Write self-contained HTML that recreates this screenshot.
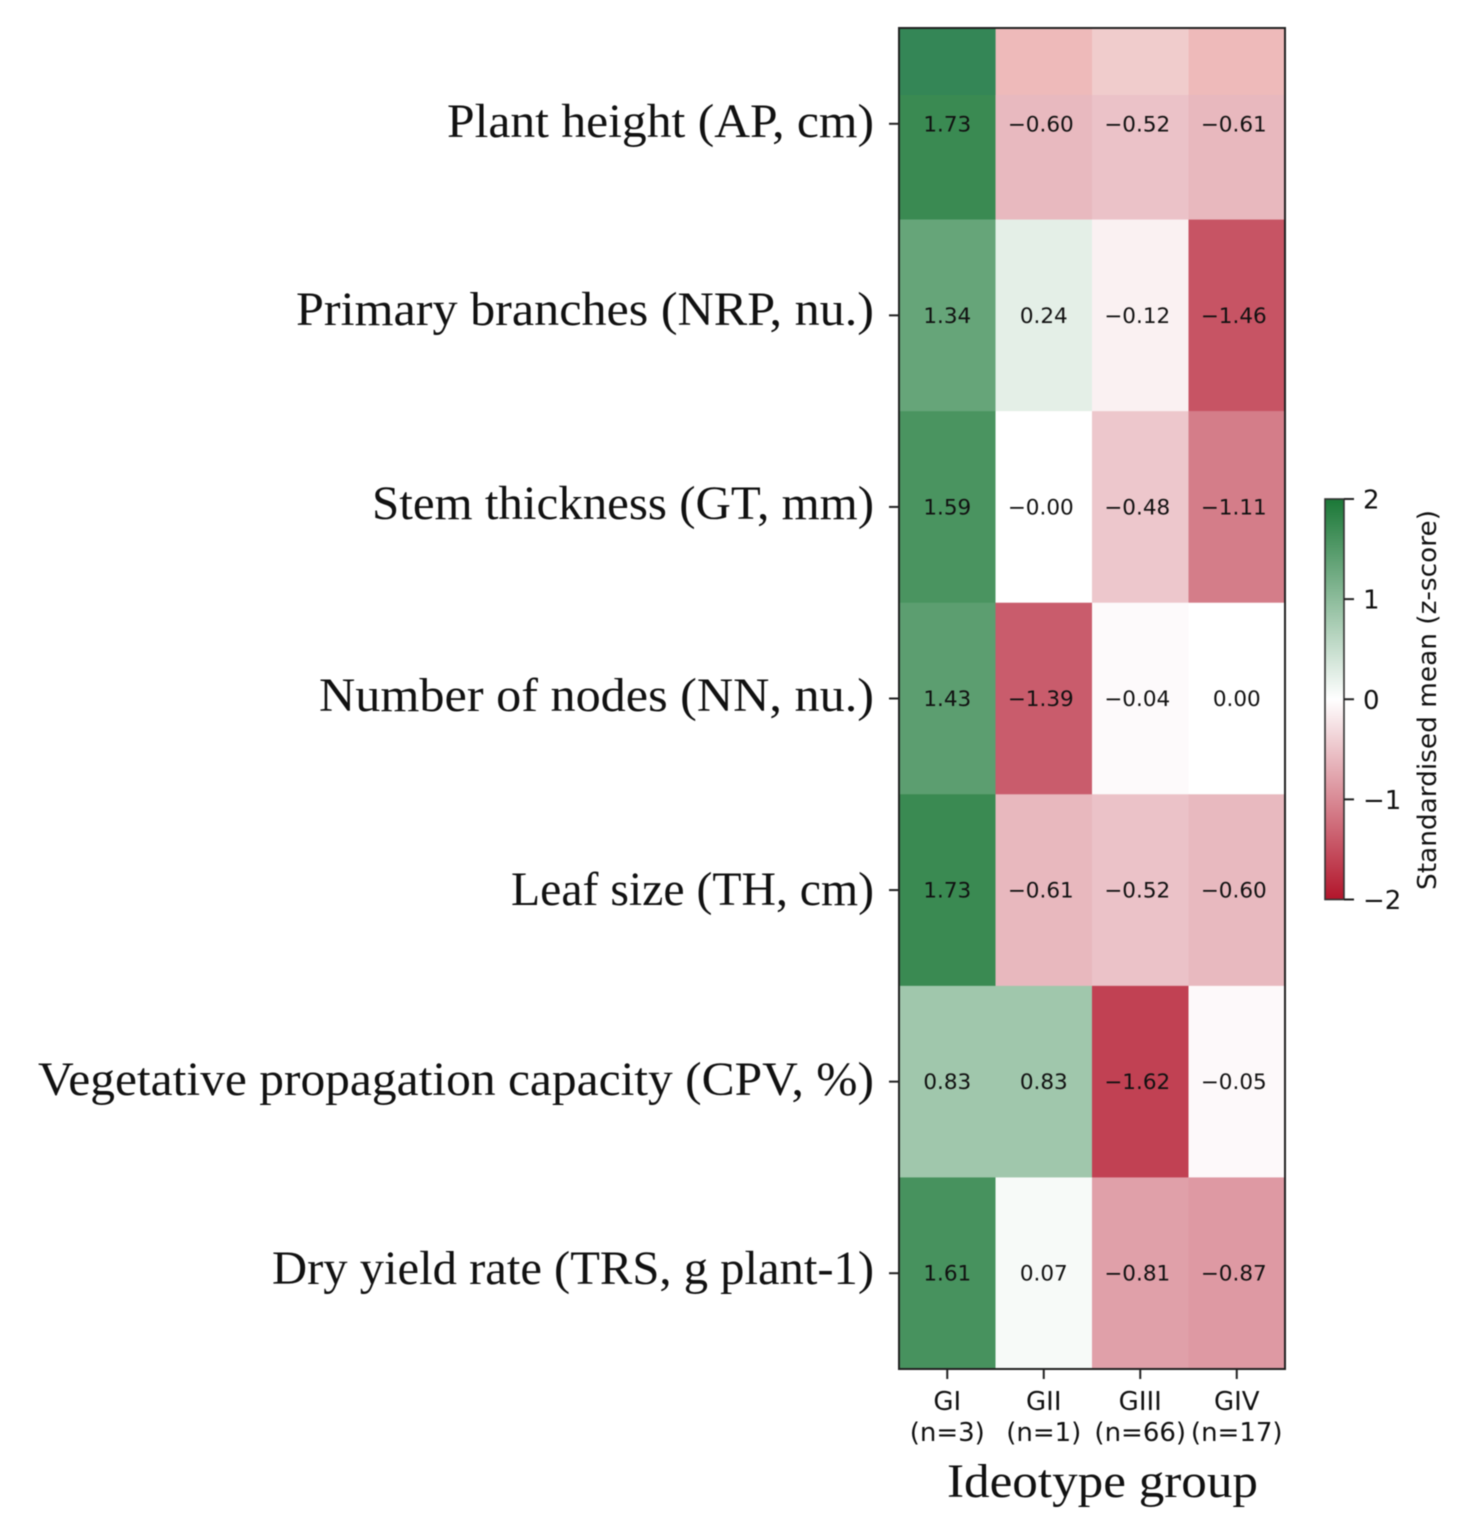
<!DOCTYPE html>
<html lang="en">
<head>
<meta charset="utf-8">
<title>Standardised trait means by ideotype group</title>
<style>
html,body{margin:0;padding:0;background:#fff;}
#chart{display:block;width:1469px;height:1535px;filter:blur(0.45px);}
.row-label,.x-title{font-family:"Liberation Serif",serif;font-size:48px;fill:#111;}
.dv{font-family:"DejaVu Sans",sans-serif;fill:#111;}
</style>
</head>
<body>
<svg id="chart" xmlns="http://www.w3.org/2000/svg" width="1469" height="1535" viewBox="0 0 1469 1535">
  <defs>
    <linearGradient id="cbar-gradient" x1="0" y1="0" x2="0" y2="1"></linearGradient>
  </defs>
  <rect x="0" y="0" width="1469" height="1535" fill="#ffffff"/>
  <g id="cells"></g>
  <g id="values"></g>
  <g id="axes"></g>
  <g id="row-labels">
    <text class="row-label" x="447" y="137" textLength="427" lengthAdjust="spacingAndGlyphs">Plant height (AP, cm)</text>
    <text class="row-label" x="296" y="325" textLength="578" lengthAdjust="spacingAndGlyphs">Primary branches (NRP, nu.)</text>
    <text class="row-label" x="372" y="519" textLength="502" lengthAdjust="spacingAndGlyphs">Stem thickness (GT, mm)</text>
    <text class="row-label" x="319" y="711" textLength="555" lengthAdjust="spacingAndGlyphs">Number of nodes (NN, nu.)</text>
    <text class="row-label" x="511" y="905" textLength="363" lengthAdjust="spacingAndGlyphs">Leaf size (TH, cm)</text>
    <text class="row-label" x="38" y="1095" textLength="836" lengthAdjust="spacingAndGlyphs">Vegetative propagation capacity (CPV, %)</text>
    <text class="row-label" x="272" y="1284" textLength="602" lengthAdjust="spacingAndGlyphs">Dry yield rate (TRS, g plant-1)</text>
  </g>
  <text class="x-title" x="947" y="1497" textLength="311" lengthAdjust="spacingAndGlyphs">Ideotype group</text>
  <g id="colorbar"></g>
  <text class="dv" font-size="26" transform="translate(1436 890) rotate(-90)" textLength="380" lengthAdjust="spacingAndGlyphs">Standardised mean (z-score)</text>
</svg>
<script>
const groups = ["GI", "GII", "GIII", "GIV"];
const groupSizes = ["(n=3)", "(n=1)", "(n=66)", "(n=17)"];
const traits = ["AP", "NRP", "GT", "NN", "TH", "CPV", "TRS"];
const valuesAP = [1.73, -0.60, -0.52, -0.61];
const valuesNRP = [1.34, 0.24, -0.12, -1.46];
const valuesGT = [1.59, -0.00, -0.48, -1.11];
const valuesNN = [1.43, -1.39, -0.04, 0.00];
const valuesTH = [1.73, -0.61, -0.52, -0.60];
const valuesCPV = [0.83, 0.83, -1.62, -0.05];
const valuesTRS = [1.61, 0.07, -0.81, -0.87];
const valueRows = [valuesAP, valuesNRP, valuesGT, valuesNN, valuesTH, valuesCPV, valuesTRS];
const colorbarTicks = [2, 1, 0, -1, -2];

const SVGNS = "http://www.w3.org/2000/svg";
const plot = {left: 899, right: 1285, top: 28, bottom: 1369};
const cbar = {left: 1325, right: 1344, top: 499, bottom: 899.5};

const colW = (plot.right - plot.left) / groups.length;
const rowH = (plot.bottom - plot.top) / traits.length;
function xScale(i) { return plot.left + i * colW; }
function yScale(i) { return plot.top + i * rowH; }
function cbarY(v) { return cbar.top + (2 - v) / 4 * (cbar.bottom - cbar.top); }

function colorScale(v) {
  const t = Math.max(-1, Math.min(1, v / 2));
  const end = t >= 0 ? [27, 120, 55] : [178, 21, 43];
  const a = Math.abs(t);
  const c = end.map(function (e) { return Math.round(255 + (e - 255) * a); });
  return "rgb(" + c.join(",") + ")";
}
function make(parent, tag, attrs, text) {
  const el = document.createElementNS(SVGNS, tag);
  for (const k in attrs) el.setAttribute(k, attrs[k]);
  if (text !== undefined) el.textContent = text;
  parent.appendChild(el);
  return el;
}
function formatValue(v) {
  const s = Math.abs(v).toFixed(2);
  return (v < 0 || Object.is(v, -0) ? "\u2212" : "") + s;
}

const cellsG = document.getElementById("cells");
const valuesG = document.getElementById("values");
const axesG = document.getElementById("axes");
const cbarG = document.getElementById("colorbar");

valueRows.forEach(function (row, r) {
  row.forEach(function (v, c) {
    const cell = make(cellsG, "rect", {
      x: xScale(c), y: yScale(r), width: colW + 0.3, height: rowH + 0.3, fill: colorScale(v)
    });
    
    
    const negative = v < 0 || Object.is(v, -0);
    const label = make(valuesG, "text", {
      "class": "dv", x: xScale(c) + colW / 2 - (negative ? 3 : 0), y: yScale(r) + rowH / 2 + 7.5,
      "font-size": 21.5, "text-anchor": "middle"
    }, formatValue(v));
    
    
  });
});

/* lighter band across the top of the first row, as in the source image */
const bandTints = ["rgb(46,130,90)", "rgb(244,187,181)", "rgb(245,214,208)", "rgb(244,187,181)"];
groups.forEach(function (g, c) {
  const band = make(cellsG, "rect", {
    x: xScale(c), y: plot.top, width: colW + 0.3, height: 67, fill: bandTints[c], "fill-opacity": 0.5
  });
  
  
});

const frame = make(axesG, "rect", {
  x: plot.left, y: plot.top, width: plot.right - plot.left, height: plot.bottom - plot.top,
  fill: "none", stroke: "#222", "stroke-width": 2
});



traits.forEach(function (t, r) {
  const y = yScale(r) + rowH / 2;
  const tick = make(axesG, "line", {x1: plot.left - 10, x2: plot.left, y1: y, y2: y, stroke: "#222", "stroke-width": 2});
  
  
});

groups.forEach(function (g, c) {
  const x = xScale(c) + colW / 2;
  const tick = make(axesG, "line", {x1: x, x2: x, y1: plot.bottom, y2: plot.bottom + 10, stroke: "#222", "stroke-width": 2});
  
  
  const name = make(axesG, "text", {"class": "dv", x: x, y: 1410, "font-size": 26, "text-anchor": "middle"}, g);
  
  
  const size = make(axesG, "text", {"class": "dv", x: x, y: 1441, "font-size": 26, "text-anchor": "middle"}, groupSizes[c]);
  
  
});

const gradient = document.getElementById("cbar-gradient");
colorbarTicks.forEach(function (v, i) {
  make(gradient, "stop", {offset: i / (colorbarTicks.length - 1), "stop-color": colorScale(v)});
});

const bar = make(cbarG, "rect", {
  x: cbar.left, y: cbar.top, width: cbar.right - cbar.left, height: cbar.bottom - cbar.top,
  fill: "url(#cbar-gradient)", stroke: "#333", "stroke-width": 1.6
});



colorbarTicks.forEach(function (v) {
  const y = cbarY(v);
  const tick = make(cbarG, "line", {x1: cbar.right, x2: cbar.right + 10, y1: y, y2: y, stroke: "#222", "stroke-width": 2});
  
  
  const label = make(cbarG, "text", {"class": "dv", x: 1363, y: y + 9.5, "font-size": 26}, v < 0 ? "\u2212" + (-v) : String(v));
  
  
});
</script>
</body>
</html>
